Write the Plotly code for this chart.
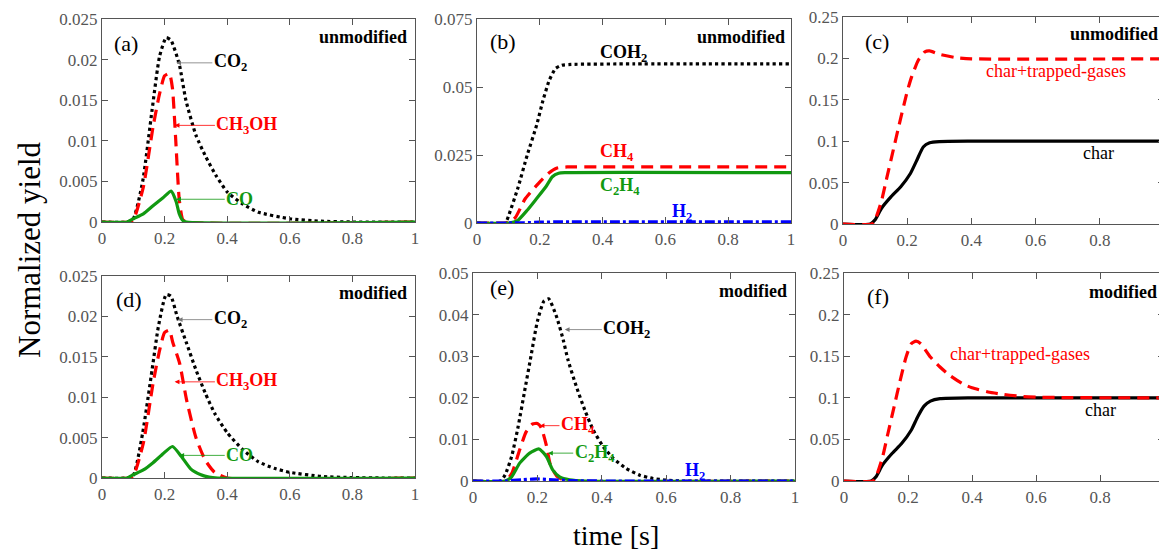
import plotly.graph_objects as go

# ---------------- data ----------------
# (a) unmodified, species CO2 / CH3OH / CO
a_co2_t = [0, 0.08, 0.1, 0.13, 0.16, 0.184, 0.205, 0.22, 0.247, 0.268, 0.3, 0.332, 0.363, 0.4, 0.45, 0.5, 0.6, 0.7, 0.8, 1.0]
a_co2_v = [0, 0, 0.0004, 0.005, 0.0138, 0.0204, 0.0227, 0.0224, 0.0194, 0.015, 0.0107, 0.008, 0.0058, 0.0037, 0.0022, 0.0012, 0.0004, 0.0001, 0, 0]
a_meoh_t = [0, 0.09, 0.1, 0.132, 0.163, 0.184, 0.2, 0.215, 0.225, 0.235, 0.247, 0.258, 0.27, 1.0]
a_meoh_v = [0, 0, 0.0002, 0.0043, 0.0117, 0.0158, 0.018, 0.0183, 0.0165, 0.0105, 0.0027, 0.0003, 0, 0]
a_co_t = [0, 0.08, 0.1, 0.132, 0.163, 0.195, 0.221, 0.237, 0.247, 0.258, 0.27, 1.0]
a_co_v = [0, 0, 0.0004, 0.001, 0.002, 0.003, 0.0038, 0.0025, 0.001, 0.0002, 0, 0]

# (d) modified, species CO2 / CH3OH / CO
d_co2_t = [0, 0.08, 0.1, 0.13, 0.16, 0.18, 0.205, 0.22, 0.24, 0.27, 0.3, 0.33, 0.36, 0.4, 0.45, 0.5, 0.55, 0.6, 0.7, 0.8, 0.9, 1.0]
d_co2_v = [0, 0, 0.0003, 0.0056, 0.0134, 0.0187, 0.0227, 0.0225, 0.02, 0.0167, 0.0134, 0.0105, 0.008, 0.0056, 0.0035, 0.002, 0.0012, 0.0007, 0.0002, 0.00005, 0, 0]
d_meoh_t = [0, 0.09, 0.1, 0.132, 0.163, 0.184, 0.2, 0.215, 0.226, 0.248, 0.27, 0.3, 0.33, 0.36, 0.4, 1.0]
d_meoh_v = [0, 0, 0.0002, 0.0043, 0.0117, 0.0158, 0.018, 0.0183, 0.0168, 0.0142, 0.0097, 0.005, 0.0022, 0.0007, 0, 0]
d_co_t = [0, 0.08, 0.1, 0.132, 0.163, 0.195, 0.225, 0.253, 0.284, 0.316, 0.342, 0.37, 1.0]
d_co_v = [0, 0, 0.0004, 0.001, 0.0019, 0.003, 0.0039, 0.0027, 0.0011, 0.0004, 0.0001, 0, 0]

# (b) unmodified, species COH2 / CH4 / C2H4 / H2
b_coh2_t = [0, 0.09, 0.1, 0.13, 0.16, 0.19, 0.21, 0.23, 0.25, 0.27, 0.3, 0.5, 1.0]
b_coh2_v = [0, 0, 0.0025, 0.0128, 0.025, 0.036, 0.045, 0.0524, 0.0568, 0.058, 0.0583, 0.0585, 0.0585]
b_ch4_t = [0, 0.09, 0.1, 0.122, 0.154, 0.196, 0.228, 0.255, 0.287, 0.4, 1.0]
b_ch4_v = [0, 0, 0.0003, 0.002, 0.009, 0.0146, 0.0183, 0.0202, 0.0206, 0.0206, 0.0206]
b_c2h4_t = [0, 0.1, 0.13, 0.16, 0.19, 0.22, 0.24, 0.26, 0.28, 1.0]
b_c2h4_v = [0, 0, 0.001, 0.0047, 0.009, 0.0134, 0.017, 0.0183, 0.0185, 0.0185]
b_h2_t = [0, 0.1, 0.15, 0.2, 0.25, 0.3, 1.0]
b_h2_v = [0, 0, 0.0001, 0.0003, 0.0004, 0.0004, 0.0004]

# (e) modified, species COH2 / CH4 / C2H4 / H2
e_coh2_t = [0, 0.085, 0.1, 0.12, 0.14, 0.16, 0.18, 0.2, 0.22, 0.235, 0.259, 0.28, 0.295, 0.321, 0.347, 0.373, 0.404, 0.435, 0.476, 0.518, 0.559, 0.6, 0.65, 1.0]
e_coh2_v = [0, 0, 0.0015, 0.0059, 0.013, 0.0215, 0.03, 0.0384, 0.0432, 0.0438, 0.0396, 0.034, 0.0291, 0.0227, 0.0171, 0.0123, 0.0083, 0.0055, 0.003, 0.0014, 0.0006, 0.0002, 0, 0]
e_ch4_t = [0, 0.1, 0.12, 0.145, 0.165, 0.185, 0.2, 0.212, 0.228, 0.24, 0.26, 0.28, 0.3, 1.0]
e_ch4_v = [0, 0, 0.0018, 0.0075, 0.0118, 0.0137, 0.0138, 0.0128, 0.0085, 0.004, 0.0012, 0.0003, 0, 0]
e_c2h4_t = [0, 0.1, 0.12, 0.145, 0.176, 0.205, 0.228, 0.248, 0.269, 0.3, 0.35, 1.0]
e_c2h4_v = [0, 0, 0.001, 0.0043, 0.0067, 0.0077, 0.0059, 0.0026, 0.001, 0.0003, 0, 0]
e_h2_t = [0, 0.1, 0.15, 0.2, 0.25, 0.3, 0.4, 1.0]
e_h2_v = [0, 0, 0.0003, 0.0005, 0.0003, 0.0001, 0, 0]

# (c) unmodified, char and char+trapped-gases
c_char_t = [0, 0.085, 0.1, 0.12, 0.15, 0.18, 0.21, 0.23, 0.25, 0.27, 0.3, 0.4, 1.0]
c_char_v = [0, 0, 0.005, 0.019, 0.033, 0.045, 0.061, 0.077, 0.093, 0.098, 0.0995, 0.1, 0.1]
c_trap_t = [0, 0.09, 0.1, 0.12, 0.136, 0.157, 0.175, 0.2, 0.214, 0.235, 0.255, 0.27, 0.3, 0.35, 0.4, 1.0]
c_trap_v = [0, 0, 0.005, 0.028, 0.055, 0.09, 0.12, 0.16, 0.178, 0.198, 0.208, 0.209, 0.205, 0.201, 0.1995, 0.1995]

# (f) modified, char and char+trapped-gases
f_char_t = [0, 0.085, 0.1, 0.12, 0.15, 0.18, 0.21, 0.23, 0.25, 0.27, 0.3, 0.4, 1.0]
f_char_v = [0, 0, 0.005, 0.019, 0.033, 0.045, 0.061, 0.077, 0.09, 0.096, 0.099, 0.1, 0.1]
f_trap_t = [0, 0.09, 0.1, 0.12, 0.136, 0.157, 0.175, 0.194, 0.21, 0.225, 0.24, 0.27, 0.3, 0.33, 0.37, 0.4, 0.45, 0.5, 0.55, 0.6, 0.7, 1.0]
f_trap_v = [0, 0, 0.005, 0.028, 0.055, 0.09, 0.12, 0.149, 0.165, 0.168, 0.165, 0.149, 0.137, 0.127, 0.117, 0.112, 0.107, 0.104, 0.1018, 0.1008, 0.1002, 0.1]

x_ticks = [0, 0.2, 0.4, 0.6, 0.8, 1]
x_tick_text = ["0", "0.2", "0.4", "0.6", "0.8", "1"]
y_ticks_ad = [0, 0.005, 0.01, 0.015, 0.02, 0.025]
y_text_ad = ["0", "0.005", "0.01", "0.015", "0.02", "0.025"]
y_ticks_b = [0, 0.025, 0.05, 0.075]
y_text_b = ["0", "0.025", "0.05", "0.075"]
y_ticks_e = [0, 0.01, 0.02, 0.03, 0.04, 0.05]
y_text_e = ["0", "0.01", "0.02", "0.03", "0.04", "0.05"]
y_ticks_cf = [0, 0.05, 0.1, 0.15, 0.2, 0.25]
y_text_cf = ["0", "0.05", "0.1", "0.15", "0.2", "0.25"]

# ---------------- styling ----------------
OFF = 8                      # default page body margin
W, H = 1167 - OFF, 552 - OFF  # figure size so that it fits the window
FONT = "Liberation Serif"
BLACK, RED, GREEN, BLUE = "#000000", "#ff0000", "#119911", "#0000ff"
LW = 3.2
DOT = "dot"
DASH = "12px,7px"
DASHDOT = "10px,3px,3px,3px"
AXC = "#555555"
LBL = 18

# pixel boxes in window pixels (left, right, top, bottom)
boxes = {
    1: (102, 415, 19, 222),
    2: (477, 791, 19, 223),
    3: (843, 1164, 17, 224),
    4: (102, 415, 276, 478),
    5: (473, 795, 273, 481),
    6: (844, 1164, 273, 481),
}


def px(xp):
    return (xp - OFF) / W


def py(yp):
    return 1 - (yp - OFF) / H


fig = go.Figure()


def ax_name(i, kind):
    return kind if i == 1 else f"{kind}{i}"


def add_line(i, t, v, color, dash):
    fig.add_trace(go.Scatter(
        x=t, y=v, mode="lines",
        line=dict(color=color, width=LW, dash=dash, shape="spline", smoothing=0.55),
        xaxis=ax_name(i, "x"), yaxis=ax_name(i, "y"), showlegend=False,
        hoverinfo="skip"))


# panel traces
add_line(1, a_co2_t, a_co2_v, BLACK, DOT)
add_line(1, a_meoh_t, a_meoh_v, RED, DASH)
add_line(1, a_co_t, a_co_v, GREEN, "solid")

add_line(2, b_coh2_t, b_coh2_v, BLACK, DOT)
add_line(2, b_ch4_t, b_ch4_v, RED, DASH)
add_line(2, b_c2h4_t, b_c2h4_v, GREEN, "solid")
add_line(2, b_h2_t, b_h2_v, BLUE, DASHDOT)

add_line(3, c_char_t, c_char_v, BLACK, "solid")
add_line(3, c_trap_t, c_trap_v, RED, DASH)

add_line(4, d_co2_t, d_co2_v, BLACK, DOT)
add_line(4, d_meoh_t, d_meoh_v, RED, DASH)
add_line(4, d_co_t, d_co_v, GREEN, "solid")

add_line(5, e_coh2_t, e_coh2_v, BLACK, DOT)
add_line(5, e_ch4_t, e_ch4_v, RED, DASH)
add_line(5, e_c2h4_t, e_c2h4_v, GREEN, "solid")
add_line(5, e_h2_t, e_h2_v, BLUE, DASHDOT)

add_line(6, f_char_t, f_char_v, BLACK, "solid")
add_line(6, f_trap_t, f_trap_v, RED, DASH)

yinfo = {
    1: (0.025, y_ticks_ad, y_text_ad),
    2: (0.075, y_ticks_b, y_text_b),
    3: (0.25, y_ticks_cf, y_text_cf),
    4: (0.025, y_ticks_ad, y_text_ad),
    5: (0.05, y_ticks_e, y_text_e),
    6: (0.25, y_ticks_cf, y_text_cf),
}

axis_common = dict(showline=True, mirror="ticks", linecolor=AXC, linewidth=1.3,
                   ticks="inside", ticklen=6, tickwidth=1.2, tickcolor=AXC,
                   showgrid=False, zeroline=False, automargin=False,
                   ticklabeloverflow="allow",
                   tickfont=dict(family=FONT, size=17, color="#555555"))

layout_axes = {}
for i, (l, r, t, b) in boxes.items():
    ymax, yt, ytt = yinfo[i]
    xa = dict(axis_common, domain=[px(l), px(r)], range=[0, 1],
              tickvals=x_ticks, ticktext=x_tick_text,
              anchor=ax_name(i, "y"))
    ya = dict(axis_common, domain=[py(b), py(t)], range=[0, ymax],
              tickvals=yt, ticktext=ytt, anchor=ax_name(i, "x"))
    layout_axes["xaxis" if i == 1 else f"xaxis{i}"] = xa
    layout_axes["yaxis" if i == 1 else f"yaxis{i}"] = ya

ann = []


def txt(i, x, y, s, color="#000", size=LBL, xanchor="center"):
    ann.append(dict(xref=ax_name(i, "x"), yref=ax_name(i, "y"), x=x, y=y, text=s,
                    showarrow=False, xanchor=xanchor, yanchor="middle",
                    font=dict(family=FONT, size=size, color=color)))


def arr(i, tx, ty, hx, s, color, acolor, size=LBL):
    ann.append(dict(xref=ax_name(i, "x"), yref=ax_name(i, "y"), x=hx, y=ty,
                    axref=ax_name(i, "x"), ayref=ax_name(i, "y"), ax=tx, ay=ty,
                    text=s, showarrow=True, arrowhead=2, arrowsize=1.2,
                    arrowwidth=0.8, arrowcolor=acolor, standoff=0,
                    font=dict(family=FONT, size=size, color=color)))


# panel letters and case tags
letters = {1: ("(a)", 0.077, 0.022), 2: ("(b)", 0.082, 0.0667), 3: ("(c)", 0.105, 0.221),
           4: ("(d)", 0.087, 0.0221), 5: ("(e)", 0.09, 0.0464), 6: ("(f)", 0.106, 0.222)}
for i, (s, x, y) in letters.items():
    txt(i, x, y, s, size=22)
tags = {1: ("unmodified", 0.982, 0.0228), 2: ("unmodified", 0.987, 0.0683), 3: ("unmodified", 0.987, 0.23),
        4: ("modified", 0.982, 0.0229), 5: ("modified", 0.982, 0.0456), 6: ("modified", 0.985, 0.227)}
for i, (s, x, y) in tags.items():
    txt(i, x, y, "<b>" + s + "</b>", size=18, xanchor="right")

# (a)
arr(1, 0.41, 0.0196, 0.237, "<b>CO<sub>2</sub></b>", BLACK, "#777777")
arr(1, 0.463, 0.0119, 0.232, "<b>CH<sub>3</sub>OH</b>", RED, RED)
arr(1, 0.44, 0.0028, 0.237, "<b>CO</b>", GREEN, GREEN)
# (d)
arr(4, 0.41, 0.0196, 0.242, "<b>CO<sub>2</sub></b>", BLACK, "#777777")
arr(4, 0.463, 0.0119, 0.232, "<b>CH<sub>3</sub>OH</b>", RED, RED)
arr(4, 0.44, 0.0028, 0.247, "<b>CO</b>", GREEN, GREEN)
# (b)
txt(2, 0.467, 0.0623, "<b>COH<sub>2</sub></b>", BLACK)
txt(2, 0.446, 0.0258, "<b>CH<sub>4</sub></b>", RED)
txt(2, 0.456, 0.0136, "<b>C<sub>2</sub>H<sub>4</sub></b>", GREEN)
txt(2, 0.653, 0.0037, "<b>H<sub>2</sub></b>", BLUE)
# (e)
arr(5, 0.478, 0.0364, 0.285, "<b>COH<sub>2</sub></b>", BLACK, "#777777")
arr(5, 0.326, 0.0133, 0.207, "<b>CH<sub>4</sub></b>", RED, RED)
arr(5, 0.378, 0.0067, 0.233, "<b>C<sub>2</sub>H<sub>4</sub></b>", GREEN, GREEN)
txt(5, 0.688, 0.0022, "<b>H<sub>2</sub></b>", BLUE)
# (c)
txt(3, 0.664, 0.185, "char+trapped-gases", RED)
txt(3, 0.796, 0.086, "char", BLACK)
# (f)
txt(6, 0.55, 0.153, "char+trapped-gases", RED)
txt(6, 0.8, 0.0857, "char", BLACK)

# global axis titles
ann.append(dict(xref="paper", yref="paper", x=px(616), y=py(535), text="time [s]",
                showarrow=False, xanchor="center", yanchor="middle",
                font=dict(family=FONT, size=28, color="#000")))
ann.append(dict(xref="paper", yref="paper", x=px(29), y=py(250), text="Normalized yield",
                showarrow=False, xanchor="center", yanchor="middle", textangle=-90,
                font=dict(family=FONT, size=31, color="#000")))

fig.update_layout(width=W, height=H, margin=dict(l=0, r=0, t=0, b=0, autoexpand=False),
                  paper_bgcolor="white", plot_bgcolor="white",
                  annotations=ann, showlegend=False, **layout_axes)

fig.write_html("out.html")
